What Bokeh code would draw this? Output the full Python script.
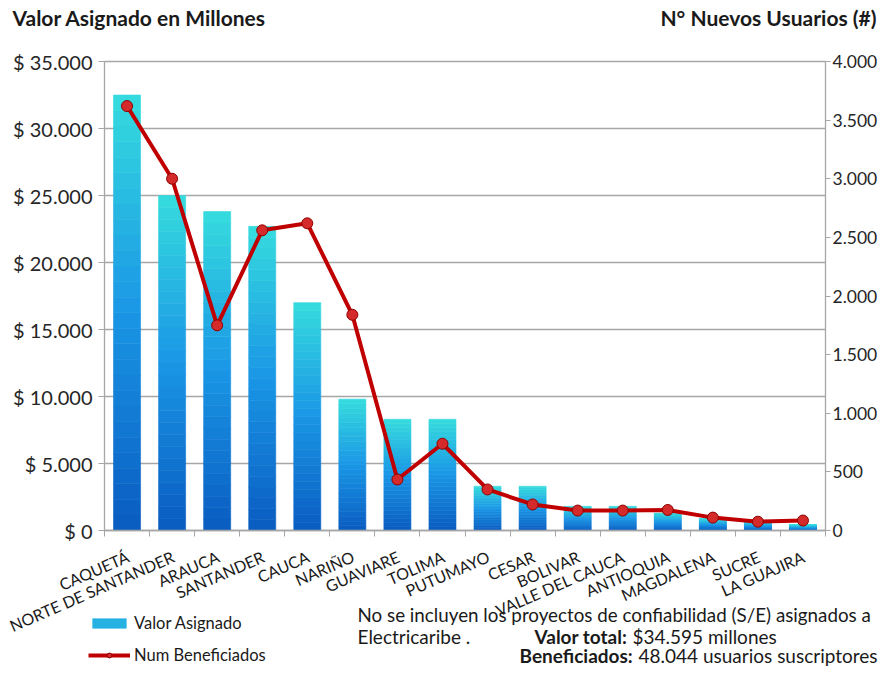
from bokeh.plotting import figure
from bokeh.models import Range1d, LinearAxis, FixedTicker, Label, Legend, LegendItem
from bokeh.core.properties import value
from bokeh.embed import file_html
from bokeh.resources import INLINE

departamentos = ["CAQUETÁ", "NORTE DE SANTANDER", "ARAUCA", "SANTANDER", "CAUCA", "NARIÑO",
                 "GUAVIARE", "TOLIMA", "PUTUMAYO", "CESAR", "BOLIVAR", "VALLE DEL CAUCA",
                 "ANTIOQUIA", "MAGDALENA", "SUCRE", "LA GUAJIRA"]
valor_asignado = [32500, 25000, 23800, 22700, 17000, 9800, 8300, 8300,
                  3300, 3300, 1800, 1800, 1300, 900, 670, 450]
num_beneficiados = [3620, 3000, 1750, 2560, 2620, 1840, 435, 740,
                    350, 222, 170, 170, 175, 110, 75, 85]
left_ticks = [0, 5000, 10000, 15000, 20000, 25000, 30000, 35000]
left_tick_labels = ["$ 0", "$ 5.000", "$ 10.000", "$ 15.000", "$ 20.000", "$ 25.000", "$ 30.000", "$ 35.000"]
right_ticks = [0, 500, 1000, 1500, 2000, 2500, 3000, 3500, 4000]
right_tick_labels = ["0", "500", "1.000", "1.500", "2.000", "2.500", "3.000", "3.500", "4.000"]

FONT = "Lato"
GRID = "#A6A6A6"
TXT = "#1a1a1a"
n = len(departamentos)
xs = list(range(n))
LMAX = left_ticks[-1]
RMAX = right_ticks[-1]

# canvas geometry (canvas pixels from top-left)
W, H = 878, 667
PL, PR = 104, 825      # plot area left/right
PT, PB = 61, 530       # plot area top/bottom
s = (PR - PL) / n
ky = (PB - PT) / LMAX
kr = (PB - PT) / RMAX

p = figure(width=W, height=H, output_backend="svg", toolbar_location=None,
           x_range=Range1d(-0.5 - PL / s, n - 0.5 + (W - PR) / s),
           y_range=Range1d(-(H - PB) / ky, LMAX + PT / ky),
           min_border=0, x_axis_type=None, y_axis_type=None)
p.outline_line_color = None
p.xgrid.visible = False
p.ygrid.visible = False
p.extra_y_ranges = {"right": Range1d(-(H - PB) / kr, RMAX + PT / kr)}


def dx(px):
    return -0.5 + (px - PL) / s


def dy(py):
    return (PB - py) / ky


# horizontal gridlines at the left-axis ticks, spanning the plot area
p.segment(x0=[-0.5] * len(left_ticks), x1=[n - 0.5] * len(left_ticks), y0=left_ticks, y1=left_ticks,
          line_color=GRID, line_width=1.3)

# left axis
ya = LinearAxis(ticker=FixedTicker(ticks=left_ticks), fixed_location=-0.5, bounds=(0, LMAX))
ya.major_label_overrides = dict(zip(left_ticks, left_tick_labels))
ya.axis_line_color = GRID
ya.axis_line_width = 1.3
ya.major_tick_line_color = GRID
ya.major_tick_out = 6
ya.major_tick_in = 0
ya.minor_tick_line_color = None
ya.major_label_text_font = FONT
ya.major_label_text_font_size = "20px"
ya.major_label_text_color = "#262626"
ya.major_label_standoff = 6
p.add_layout(ya, "left")

# right axis
ra = LinearAxis(y_range_name="right", ticker=FixedTicker(ticks=right_ticks),
                fixed_location=n - 0.5, bounds=(0, RMAX))
ra.major_label_overrides = dict(zip(right_ticks, right_tick_labels))
ra.axis_line_color = GRID
ra.axis_line_width = 1.3
ra.major_tick_line_color = GRID
ra.major_tick_out = 5
ra.major_tick_in = 0
ra.minor_tick_line_color = None
ra.major_label_text_font = FONT
ra.major_label_text_font_size = "17.5px"
ra.major_label_text_color = "#262626"
ra.major_label_standoff = 2
p.add_layout(ra, "right")

# bottom axis (tick marks between categories)
xa = LinearAxis(ticker=FixedTicker(ticks=[], minor_ticks=[i - 0.5 for i in range(n + 1)]),
                fixed_location=0, bounds=(-0.5, n - 0.5))
xa.axis_line_color = GRID
xa.axis_line_width = 1.3
xa.major_tick_line_color = None
xa.minor_tick_line_color = GRID
xa.minor_tick_out = 6
xa.minor_tick_in = 0
xa.major_label_text_alpha = 0
p.add_layout(xa, "below")


def lerp(c1, c2, t):
    a = [int(c1[i:i + 2], 16) for i in (1, 3, 5)]
    b = [int(c2[i:i + 2], 16) for i in (1, 3, 5)]
    return "#%02x%02x%02x" % tuple(int(round(a[i] + (b[i] - a[i]) * t)) for i in range(3))


def bar_color(t):
    if t < 0.5:
        return lerp("#0A5CC0", "#1A96E6", t / 0.5)
    return lerp("#1A96E6", "#36DCDE", (t - 0.5) / 0.5)


# bars drawn as stacked slices of each value to give a vertical gradient
N = 28
bar_rs = []
for k in range(N):
    col = bar_color((k + 0.5) / N)
    bottoms = [v * k / N for v in valor_asignado]
    tops = [v * (k + 1) / N for v in valor_asignado]
    bar_rs.append(p.vbar(x=xs, bottom=bottoms, top=tops, width=0.6,
                         fill_color=col, line_color=col, line_width=0.6))

line_r = p.line(xs, num_beneficiados, y_range_name="right", line_color="#C00000", line_width=4)
dot_r = p.scatter(xs, num_beneficiados, y_range_name="right", size=11,
                  fill_color="#D42A2A", line_color="#8E0000", line_width=1)

# category labels (rotated)
p.text(x=[x + 0.02 for x in xs], y=[dy(555)] * n, text=departamentos, angle=0.41,
       text_font=value(FONT), text_font_size="16px", text_align="right",
       text_baseline="alphabetic", text_color=TXT)

# axis titles
p.text(x=[dx(12)], y=[dy(17)], text=["Valor Asignado en Millones"], text_font=value(FONT),
       text_font_size="21px", text_font_style="bold", text_align="left",
       text_baseline="middle", text_color=TXT)
p.text(x=[dx(876)], y=[dy(17)], text=["N° Nuevos Usuarios (#)"], text_font=value(FONT),
       text_font_size="21px", text_font_style="bold", text_align="right",
       text_baseline="middle", text_color=TXT)


def lab(text, x, y, bold=False, align="left", size="19px"):
    p.add_layout(Label(x=dx(x), y=dy(y), text=text, text_font=FONT, text_font_size=size,
                       text_font_style="bold" if bold else "normal", text_align=align,
                       text_baseline="middle", text_color=TXT))


lab("No se incluyen los proyectos de confiabilidad (S/E) asignados a", 357, 614, size="18.8px")
lab("Electricaribe .", 357, 636)
lab("Valor total:", 534, 636, bold=True)
lab("$34.595 millones", 632, 636)
lab("Beneficiados:", 519, 655, bold=True)
lab("48.044 usuarios suscriptores", 638, 655)

legend = Legend(items=[LegendItem(label="Valor Asignado", renderers=[bar_rs[int(N * 0.7)]]),
                       LegendItem(label="Num Beneficiados", renderers=[line_r, dot_r])],
                location=(88, H - 665), orientation="vertical")
legend.glyph_width = 42
legend.glyph_height = 12
legend.label_height = 20
legend.label_text_font = FONT
legend.label_text_font_size = "16.5px"
legend.label_text_color = TXT
legend.label_standoff = 4
legend.spacing = 12
legend.padding = 0
legend.margin = 0
legend.background_fill_alpha = 0
legend.border_line_color = None
p.add_layout(legend, "center")

open("out.html", "w").write(file_html(p, INLINE))
